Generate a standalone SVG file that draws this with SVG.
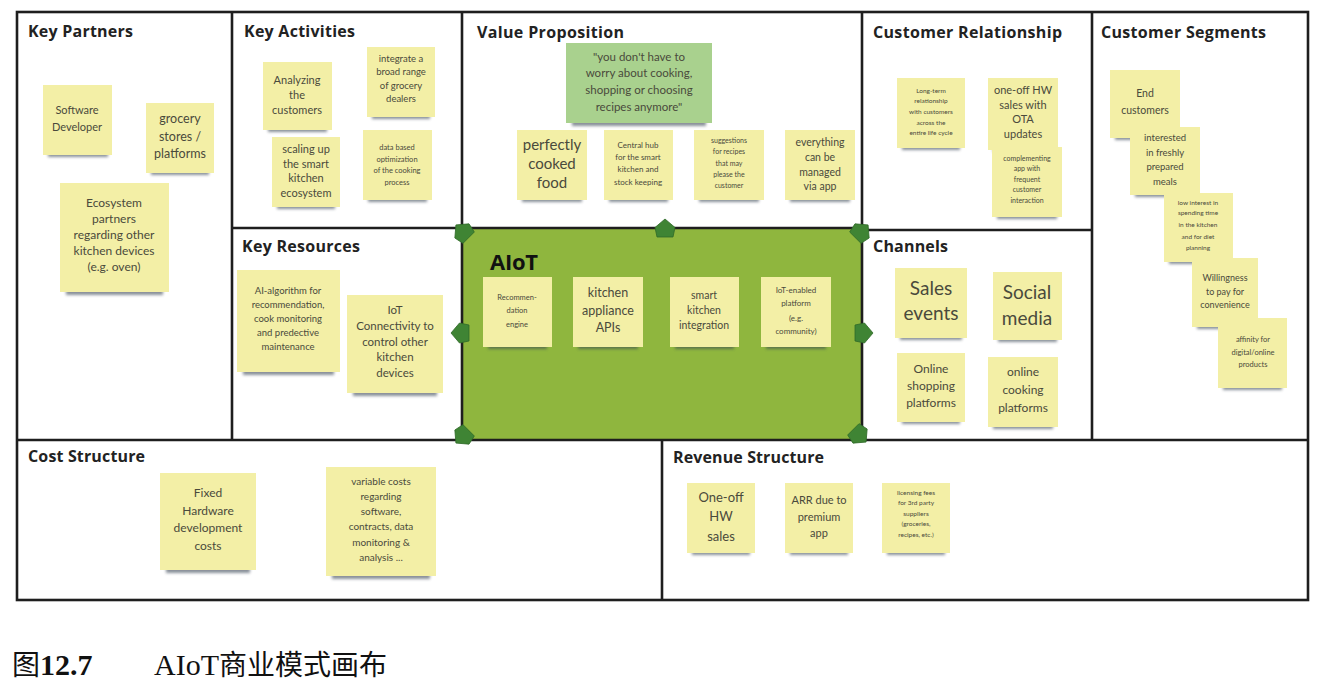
<svg xmlns="http://www.w3.org/2000/svg" width="1333" height="686" viewBox="0 0 1333 686">
<style>
.bg{fill:#ffffff}
.frame{fill:none;stroke:#1e1e1e;stroke-width:2.6}
.ttl{font-family:"Open Sans","Liberation Sans",sans-serif;font-weight:700;font-size:16px;fill:#222}
.n{fill:#f3efa6}
.g{fill:#a9d18e}
.sh{fill:#3b4656;opacity:.6;filter:url(#blur)}
.t{font-family:Lato,"Open Sans","Liberation Sans",sans-serif;fill:#4a4a3c;text-anchor:middle}
.arw{fill:#3f8434;stroke:#2f6a28;stroke-width:.8}
.cap{font-family:"Liberation Serif","Noto Sans CJK SC",serif;font-size:30px;fill:#111}
.cjk{font-family:"Noto Sans CJK SC",serif;font-size:28px}
</style>
<defs>
<filter id="blur" x="-20%" y="-100%" width="140%" height="300%"><feGaussianBlur stdDeviation="1.8"/></filter>
<path id="arw" d="M0,-10 L10,-1.5 L8,8 L-8,8 L-10,-1.5 Z"/>
</defs>
<rect class="bg" x="0" y="0" width="1333" height="686"/>

<g id="aiot-bg"><rect x="462" y="229" width="400" height="211" fill="#8fb63e"/></g>

<g id="frame">
<rect class="frame" x="17" y="12" width="1291" height="588"/>
<line class="frame" x1="232" y1="12" x2="232" y2="440"/>
<line class="frame" x1="462" y1="12" x2="462" y2="440"/>
<line class="frame" x1="862" y1="12" x2="862" y2="440"/>
<line class="frame" x1="1092" y1="12" x2="1092" y2="440"/>
<line class="frame" x1="17" y1="440" x2="1308" y2="440"/>
<line class="frame" x1="232" y1="228" x2="862" y2="228"/>
<line class="frame" x1="862" y1="230" x2="1092" y2="230"/>
<line class="frame" x1="662" y1="440" x2="662" y2="600"/>
</g>

<g id="key-partners">
<text class="ttl" x="28" y="37" textLength="105">Key Partners</text>
<g id="kp1"><rect class="sh" x="48" y="152" width="60" height="5"/><rect class="n" x="43" y="85" width="69" height="70"/>
<text class="t" font-size="11"><tspan x="77" y="114">Software</tspan><tspan x="77" y="131">Developer</tspan></text></g>
<g id="kp2"><rect class="sh" x="151" y="170" width="58" height="5"/><rect class="n" x="146" y="103" width="68" height="70"/>
<text class="t" font-size="12.5"><tspan x="180" y="123">grocery</tspan><tspan x="180" y="141">stores /</tspan><tspan x="180" y="158">platforms</tspan></text></g>
<g id="kp3"><rect class="sh" x="66" y="289" width="97" height="6"/><rect class="n" x="60" y="183" width="109" height="109"/>
<text class="t" font-size="12"><tspan x="114" y="207">Ecosystem</tspan><tspan x="114" y="223">partners</tspan><tspan x="114" y="239">regarding other</tspan><tspan x="114" y="255">kitchen devices</tspan><tspan x="114" y="271">(e.g. oven)</tspan></text></g>
</g>

<g id="key-activities">
<text class="ttl" x="244" y="37" textLength="111">Key Activities</text>
<g id="ka1"><rect class="sh" x="268" y="127" width="59" height="5"/><rect class="n" x="263" y="62" width="69" height="68"/>
<text class="t" font-size="11"><tspan x="297" y="84">Analyzing</tspan><tspan x="297" y="99">the</tspan><tspan x="297" y="114">customers</tspan></text></g>
<g id="ka2"><rect class="sh" x="372" y="114" width="58" height="5"/><rect class="n" x="367" y="47" width="68" height="70"/>
<text class="t" font-size="9.5"><tspan x="401" y="62">integrate a</tspan><tspan x="401" y="75">broad range</tspan><tspan x="401" y="89">of grocery</tspan><tspan x="401" y="102">dealers</tspan></text></g>
<g id="ka3"><rect class="sh" x="277" y="204" width="58" height="5"/><rect class="n" x="272" y="137" width="68" height="70"/>
<text class="t" font-size="11"><tspan x="306" y="153">scaling up</tspan><tspan x="306" y="168">the smart</tspan><tspan x="306" y="182">kitchen</tspan><tspan x="306" y="197">ecosystem</tspan></text></g>
<g id="ka4"><rect class="sh" x="368" y="197" width="59" height="5"/><rect class="n" x="363" y="130" width="69" height="70"/>
<text class="t" font-size="7.5"><tspan x="397" y="150">data based</tspan><tspan x="397" y="162">optimization</tspan><tspan x="397" y="173">of the cooking</tspan><tspan x="397" y="185">process</tspan></text></g>
</g>

<g id="value-proposition">
<text class="ttl" x="477" y="38" textLength="147">Value Proposition</text>
<g id="vp0"><rect class="sh" x="572" y="120" width="134" height="6"/><rect class="g" x="566" y="43" width="146" height="80"/>
<text class="t" font-size="11.5"><tspan x="639" y="61">"you don't have to</tspan><tspan x="639" y="77">worry about cooking,</tspan><tspan x="639" y="94">shopping or choosing</tspan><tspan x="639" y="111">recipes anymore"</tspan></text></g>
<g id="vp1"><rect class="sh" x="522" y="197" width="60" height="5"/><rect class="n" x="517" y="130" width="70" height="70"/>
<text class="t" font-size="15"><tspan x="552" y="150">perfectly</tspan><tspan x="552" y="169">cooked</tspan><tspan x="552" y="188">food</tspan></text></g>
<g id="vp2"><rect class="sh" x="609" y="197" width="59" height="5"/><rect class="n" x="604" y="130" width="69" height="70"/>
<text class="t" font-size="8"><tspan x="638" y="148">Central hub</tspan><tspan x="638" y="160">for  the smart</tspan><tspan x="638" y="172">kitchen and</tspan><tspan x="638" y="185">stock keeping</tspan></text></g>
<g id="vp3"><rect class="sh" x="699" y="197" width="60" height="5"/><rect class="n" x="694" y="130" width="70" height="70"/>
<text class="t" font-size="7"><tspan x="729" y="143">suggestions</tspan><tspan x="729" y="154">for recipes</tspan><tspan x="729" y="166">that may</tspan><tspan x="729" y="177">please the</tspan><tspan x="729" y="188">customer</tspan></text></g>
<g id="vp4"><rect class="sh" x="790" y="197" width="60" height="5"/><rect class="n" x="785" y="130" width="70" height="70"/>
<text class="t" font-size="10.5"><tspan x="820" y="146">everything</tspan><tspan x="820" y="161">can be</tspan><tspan x="820" y="176">managed</tspan><tspan x="820" y="190">via app</tspan></text></g>
</g>

<g id="customer-relationship">
<text class="ttl" x="873" y="38" textLength="189">Customer Relationship</text>
<g id="cr1"><rect class="sh" x="902" y="145" width="58" height="5"/><rect class="n" x="897" y="78" width="68" height="70"/>
<text class="t" font-size="6.5"><tspan x="931" y="93">Long-term</tspan><tspan x="931" y="103">relationship</tspan><tspan x="931" y="114">with customers</tspan><tspan x="931" y="125">across the</tspan><tspan x="931" y="135">entire life cycle</tspan></text></g>
<g id="cr2"><rect class="sh" x="993" y="147" width="60" height="5"/><rect class="n" x="988" y="78" width="70" height="72"/>
<text class="t" font-size="11"><tspan x="1023" y="94">one-off HW</tspan><tspan x="1023" y="109">sales with</tspan><tspan x="1023" y="123">OTA</tspan><tspan x="1023" y="138">updates</tspan></text></g>
<g id="cr3"><rect class="sh" x="997" y="214" width="60" height="5"/><rect class="n" x="992" y="147" width="70" height="70"/>
<text class="t" font-size="7"><tspan x="1027" y="161">complementing</tspan><tspan x="1027" y="171">app with</tspan><tspan x="1027" y="182">frequent</tspan><tspan x="1027" y="192">customer</tspan><tspan x="1027" y="203">interaction</tspan></text></g>
</g>

<g id="customer-segments">
<text class="ttl" x="1101" y="38" textLength="165">Customer Segments</text>
<g id="cs1"><rect class="sh" x="1115" y="135" width="60" height="5"/><rect class="n" x="1110" y="70" width="70" height="68"/>
<text class="t" font-size="10.5"><tspan x="1145" y="97">End</tspan><tspan x="1145" y="114">customers</tspan></text></g>
<g id="cs2"><rect class="sh" x="1135" y="192" width="60" height="5"/><rect class="n" x="1130" y="127" width="70" height="68"/>
<text class="t" font-size="9.5"><tspan x="1165" y="141">interested</tspan><tspan x="1165" y="156">in freshly</tspan><tspan x="1165" y="170">prepared</tspan><tspan x="1165" y="185">meals</tspan></text></g>
<g id="cs3"><rect class="sh" x="1169" y="259" width="59" height="5"/><rect class="n" x="1164" y="193" width="69" height="69"/>
<text class="t" font-size="6.5"><tspan x="1198" y="205">low interest in</tspan><tspan x="1198" y="215">spending time</tspan><tspan x="1198" y="227">in the kitchen</tspan><tspan x="1198" y="239">and for diet</tspan><tspan x="1198" y="250">planning</tspan></text></g>
<g id="cs4"><rect class="sh" x="1197" y="324" width="56" height="5"/><rect class="n" x="1192" y="258" width="66" height="69"/>
<text class="t" font-size="9"><tspan x="1225" y="281">Willingness</tspan><tspan x="1225" y="295">to pay for</tspan><tspan x="1225" y="308">convenience</tspan></text></g>
<g id="cs5"><rect class="sh" x="1223" y="385" width="59" height="5"/><rect class="n" x="1218" y="318" width="69" height="70"/>
<text class="t" font-size="7.5"><tspan x="1253" y="342">affinity for</tspan><tspan x="1253" y="355">digital/online</tspan><tspan x="1253" y="367">products</tspan></text></g>
</g>

<g id="key-resources">
<text class="ttl" x="242" y="252" textLength="118">Key Resources</text>
<g id="kr1"><rect class="sh" x="243" y="369" width="91" height="6"/><rect class="n" x="237" y="270" width="103" height="102"/>
<text class="t" font-size="9.5"><tspan x="288" y="294">AI-algorithm for</tspan><tspan x="288" y="308">recommendation,</tspan><tspan x="288" y="322">cook monitoring</tspan><tspan x="288" y="336">and predective</tspan><tspan x="288" y="350">maintenance</tspan></text></g>
<g id="kr2"><rect class="sh" x="353" y="390" width="84" height="6"/><rect class="n" x="347" y="295" width="96" height="98"/>
<text class="t" font-size="11.5"><tspan x="395" y="314">IoT</tspan><tspan x="395" y="330">Connectivity to</tspan><tspan x="395" y="346">control other</tspan><tspan x="395" y="361">kitchen</tspan><tspan x="395" y="377">devices</tspan></text></g>
</g>

<g id="aiot">
<text x="490" y="270" font-family="'Open Sans','Liberation Sans',sans-serif" font-weight="700" font-size="22" fill="#111" textLength="48">AIoT</text>
<g id="ai1"><rect class="sh" x="488" y="344" width="59" height="5"/><rect class="n" x="483" y="277" width="69" height="70"/>
<text class="t" font-size="7.5"><tspan x="517" y="300">Recommen-</tspan><tspan x="517" y="313">dation</tspan><tspan x="517" y="327">engine</tspan></text></g>
<g id="ai2"><rect class="sh" x="578" y="344" width="60" height="5"/><rect class="n" x="573" y="277" width="70" height="70"/>
<text class="t" font-size="12.5"><tspan x="608" y="297">kitchen</tspan><tspan x="608" y="315">appliance</tspan><tspan x="608" y="332">APIs</tspan></text></g>
<g id="ai3"><rect class="sh" x="675" y="344" width="59" height="5"/><rect class="n" x="670" y="277" width="69" height="70"/>
<text class="t" font-size="10.5"><tspan x="704" y="299">smart</tspan><tspan x="704" y="314">kitchen</tspan><tspan x="704" y="329">integration</tspan></text></g>
<g id="ai4"><rect class="sh" x="766" y="344" width="60" height="5"/><rect class="n" x="761" y="277" width="70" height="70"/>
<text class="t" font-size="8"><tspan x="796" y="293">IoT-enabled</tspan><tspan x="796" y="306">platform</tspan><tspan x="796" y="321">(e.g.</tspan><tspan x="796" y="334">community)</tspan></text></g>
</g>

<g id="channels">
<text class="ttl" x="873" y="252" textLength="75">Channels</text>
<g id="ch1"><rect class="sh" x="900" y="335" width="62" height="5"/><rect class="n" x="895" y="268" width="72" height="70"/>
<text class="t" font-size="19"><tspan x="931" y="295">Sales</tspan><tspan x="931" y="320">events</tspan></text></g>
<g id="ch2"><rect class="sh" x="998" y="337" width="59" height="5"/><rect class="n" x="993" y="272" width="69" height="68"/>
<text class="t" font-size="19"><tspan x="1027" y="299">Social</tspan><tspan x="1027" y="325">media</tspan></text></g>
<g id="ch3"><rect class="sh" x="902" y="419" width="58" height="5"/><rect class="n" x="897" y="353" width="68" height="69"/>
<text class="t" font-size="12"><tspan x="931" y="373">Online</tspan><tspan x="931" y="390">shopping</tspan><tspan x="931" y="407">platforms</tspan></text></g>
<g id="ch4"><rect class="sh" x="993" y="424" width="60" height="5"/><rect class="n" x="988" y="357" width="70" height="70"/>
<text class="t" font-size="12"><tspan x="1023" y="376">online</tspan><tspan x="1023" y="394">cooking</tspan><tspan x="1023" y="412">platforms</tspan></text></g>
</g>

<g id="cost-structure">
<text class="ttl" x="28" y="462" textLength="117">Cost Structure</text>
<g id="co1"><rect class="sh" x="166" y="567" width="84" height="6"/><rect class="n" x="160" y="473" width="96" height="97"/>
<text class="t" font-size="12"><tspan x="208" y="497">Fixed</tspan><tspan x="208" y="515">Hardware</tspan><tspan x="208" y="532">development</tspan><tspan x="208" y="550">costs</tspan></text></g>
<g id="co2"><rect class="sh" x="332" y="573" width="98" height="6"/><rect class="n" x="326" y="467" width="110" height="109"/>
<text class="t" font-size="10"><tspan x="381" y="485">variable costs</tspan><tspan x="381" y="500">regarding</tspan><tspan x="381" y="515">software,</tspan><tspan x="381" y="530">contracts, data</tspan><tspan x="381" y="546">monitoring &amp;</tspan><tspan x="381" y="561">analysis ...</tspan></text></g>
</g>

<g id="revenue-structure">
<text class="ttl" x="673" y="463" textLength="151">Revenue Structure</text>
<g id="rv1"><rect class="sh" x="692" y="550" width="58" height="5"/><rect class="n" x="687" y="483" width="68" height="70"/>
<text class="t" font-size="13"><tspan x="721" y="502">One-off</tspan><tspan x="721" y="521">HW</tspan><tspan x="721" y="541">sales</tspan></text></g>
<g id="rv2"><rect class="sh" x="790" y="550" width="58" height="5"/><rect class="n" x="785" y="483" width="68" height="70"/>
<text class="t" font-size="11"><tspan x="819" y="504">ARR due to</tspan><tspan x="819" y="521">premium</tspan><tspan x="819" y="537">app</tspan></text></g>
<g id="rv3"><rect class="sh" x="887" y="550" width="58" height="5"/><rect class="n" x="882" y="483" width="68" height="70"/>
<text class="t" font-size="6.5"><tspan x="916" y="495">licensing fees</tspan><tspan x="916" y="505">for 3rd party</tspan><tspan x="916" y="516">suppliers</tspan><tspan x="916" y="526">(groceries,</tspan><tspan x="916" y="537">recipes, etc.)</tspan></text></g>
</g>

<g id="connectors">
<use class="arw" href="#arw" transform="translate(463,232) rotate(-45)"/>
<use class="arw" href="#arw" transform="translate(665,229)"/>
<use class="arw" href="#arw" transform="translate(861,232) rotate(45)"/>
<use class="arw" href="#arw" transform="translate(461,333) rotate(-90)"/>
<use class="arw" href="#arw" transform="translate(863,333) rotate(90)"/>
<use class="arw" href="#arw" transform="translate(463,436) rotate(-135)"/>
<use class="arw" href="#arw" transform="translate(859,435) rotate(135)"/>
</g>

<g id="caption">
<text class="cap" x="12" y="675"><tspan class="cjk">图</tspan><tspan font-weight="700">12.7</tspan></text>
<text class="cap" x="154" y="675">AIoT<tspan class="cjk">商业模式画布</tspan></text>
</g>
</svg>
